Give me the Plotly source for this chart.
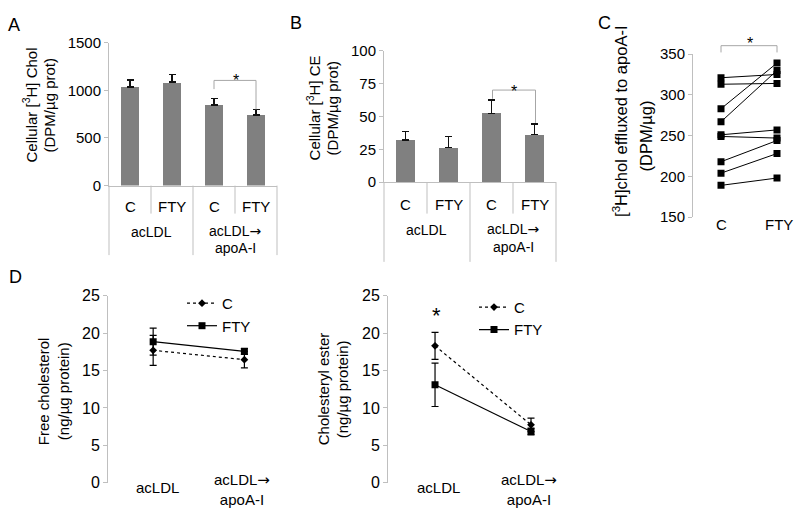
import plotly.graph_objects as go

W, H = 800, 516
FONT = "Liberation Sans, Arial, sans-serif"
BAR_GREY = "#808080"
AXIS_GREY = "#bfbfbf"
ARROW = '<span style="font-family:DejaVu Sans">→</span>'

# ---- data ----
bar_cats = ["C", "FTY", "C", "FTY"]
bar_groups = ["acLDL", "acLDL" + ARROW, "apoA-I"]

chol_vals = [1037, 1085, 848, 740]
chol_err = [75, 80, 68, 60]

ce_vals = [32.1, 26.3, 52.4, 36.2]
ce_err = [6.6, 8.6, 10.4, 7.9]

pair_cats = ["C", "FTY"]
efflux_c = [321, 313, 283, 267, 251, 249, 218, 204, 189]
efflux_fty = [325, 314, 339, 330, 257, 247, 244, 228, 198]

d_cats = ["acLDL", "acLDL" + ARROW + "<br>apoA-I"]
fc_c = [17.7, 16.45]
fc_c_err = [2.0, 1.1]
fc_fty = [18.85, 17.55]
fc_fty_err = [1.8, 0.4]
ce2_c = [18.3, 7.75]
ce2_c_err = [1.8, 0.9]
ce2_fty = [13.1, 6.85]
ce2_fty_err = [2.9, 0.45]


def px(x):
    return x / W


def py(y):
    return 1 - y / H


# axis boxes in pixels: (x0, x1, ytop, ybottom)
BOX_A = (109, 277, 35, 183)
BOX_B = (384, 556, 43.5, 179.3)
BOX_C = (693, 800, 46.7, 215.7)
BOX_D1 = (108, 290, 297, 491)
BOX_D2 = (388, 579, 297, 491)

fig = go.Figure()

# A & B bars
for vals, errs, ax in [(chol_vals, chol_err, ""), (ce_vals, ce_err, "2")]:
    fig.add_trace(go.Bar(
        x=list(range(len(vals))), y=vals, width=0.43,
        marker=dict(color=BAR_GREY, line=dict(width=0)),
        error_y=dict(type="data", array=errs, arrayminus=[0] * len(errs),
                     symmetric=False, color="#111", thickness=1.6, width=3.5),
        xaxis="x" + ax, yaxis="y" + ax, showlegend=False,
    ))

# C paired lines
lx, ly = [], []
for a, b in zip(efflux_c, efflux_fty):
    lx += [0, 1, None]
    ly += [a, b, None]
fig.add_trace(go.Scatter(
    x=lx, y=ly, mode="lines+markers",
    line=dict(color="black", width=1),
    marker=dict(symbol="square", size=7, color="black"),
    xaxis="x3", yaxis="y3", showlegend=False,
))

# D panels
for (cv, cerr, fv, ferr, ax, lg) in [(fc_c, fc_c_err, fc_fty, fc_fty_err, "4", "legend"),
                                     (ce2_c, ce2_c_err, ce2_fty, ce2_fty_err, "5", "legend2")]:
    fig.add_trace(go.Scatter(
        x=[0, 1], y=cv, name="C", mode="lines+markers",
        line=dict(color="black", width=1.2, dash="dot"),
        marker=dict(symbol="diamond", size=6, color="black"),
        error_y=dict(type="data", array=cerr, color="black", thickness=1.2, width=3.5),
        xaxis="x" + ax, yaxis="y" + ax, legend=lg,
    ))
    fig.add_trace(go.Scatter(
        x=[0, 1], y=fv, name="FTY", mode="lines+markers",
        line=dict(color="black", width=1.2),
        marker=dict(symbol="square", size=7, color="black"),
        error_y=dict(type="data", array=ferr, color="black", thickness=1.2, width=3.5),
        xaxis="x" + ax, yaxis="y" + ax, legend=lg,
    ))


def yax(box, rng, dtick, anchor, size=15):
    return dict(domain=[py(box[3]), py(box[2])], range=rng, dtick=dtick, anchor=anchor,
                showline=True, linecolor=AXIS_GREY, linewidth=1,
                ticks="outside", ticklen=4, tickcolor=AXIS_GREY,
                showgrid=False, zeroline=False,
                tickfont=dict(size=size, color="black"))


def xax(box, rng, anchor, line=False):
    return dict(domain=[px(box[0]), min(px(box[1]), 1)], range=rng, anchor=anchor,
                showline=line, linecolor=AXIS_GREY, linewidth=1,
                ticks="", showticklabels=False, showgrid=False, zeroline=False)


# C panel: x=0 at 721px, x=1 at 777px
c_scale = 56.0
c_range = [-0.5, -0.5 + (800 - 693) / c_scale]

fig.update_layout(
    width=W, height=H, margin=dict(l=0, r=0, t=0, b=0),
    paper_bgcolor="white", plot_bgcolor="white",
    font=dict(family=FONT, color="black"),
    bargap=0, hovermode=False,
    xaxis=xax(BOX_A, [-0.5, 3.5], "y", True),
    yaxis=yax(BOX_A, [0, 1500], 500, "x"),
    xaxis2=xax(BOX_B, [-0.5, 3.5], "y2", True),
    yaxis2=yax(BOX_B, [0, 100], 25, "x2"),
    xaxis3=xax(BOX_C, c_range, "y3"),
    yaxis3=yax(BOX_C, [150, 350], 50, "x3"),
    xaxis4=xax(BOX_D1, [-0.495, 1.5], "y4"),
    yaxis4=yax(BOX_D1, [0, 25], 5, "x4", 16),
    xaxis5=xax(BOX_D2, [-0.49, 1.5], "y5"),
    yaxis5=yax(BOX_D2, [0, 25], 5, "x5", 16),
    legend=dict(x=px(182), y=py(288), xanchor="left", yanchor="top",
                bgcolor="rgba(0,0,0,0)", font=dict(size=15), itemwidth=30,
                tracegroupgap=0),
    legend2=dict(x=px(474), y=py(292), xanchor="left", yanchor="top",
                 bgcolor="rgba(0,0,0,0)", font=dict(size=15), itemwidth=30,
                 tracegroupgap=0),
)

shapes = []
ann = []


def line(x0, y0, x1, y1, color=AXIS_GREY, w=1):
    shapes.append(dict(type="line", xref="paper", yref="paper",
                       x0=px(x0), y0=py(y0), x1=px(x1), y1=py(y1),
                       line=dict(color=color, width=w)))


def text(x, y, s, size=15, angle=0):
    ann.append(dict(xref="paper", yref="paper", x=px(x), y=py(y), text=s,
                    showarrow=False, xanchor="center", yanchor="middle",
                    textangle=angle, font=dict(size=size, color="black")))


# multi-level category axes for A and B
for box, inner_end, group_end, cat_y, grp_y in [
        (BOX_A, 212, 255, 205, (230, 248)),
        (BOX_B, 212, 262, 202.5, (228, 247))]:
    x0, x1, _, yb = box
    step = (x1 - x0) / 4
    for i in range(5):
        xx = x0 + i * step
        line(xx, yb, xx, group_end if i % 2 == 0 else inner_end)
    for i, c in enumerate(bar_cats):
        text(x0 + (i + 0.5) * step, cat_y, c, 15)
    text(x0 + step, grp_y[0] + 1, bar_groups[0], 14)
    text(x0 + 3 * step, grp_y[0], bar_groups[1], 14)
    text(x0 + 3 * step, grp_y[1], bar_groups[2], 14)

# C panel category labels
for i, c in enumerate(pair_cats):
    text(693 + (i - c_range[0]) * c_scale + 2 * i, 223, c, 15)

# significance brackets
BR = "#a6a6a6"
for (xl, xr, ytop, yl, yr, sx, sy) in [(214, 256, 74, 83, 104, 236, 74),
                                        (492.5, 535.5, 84, 93, 118, 514, 85),
                                        (721, 777, 38, 45, 45, 750, 36)]:
    line(xl, yl, xl, ytop, BR)
    line(xl, ytop, xr, ytop, BR)
    line(xr, ytop, xr, yr, BR)
    text(sx, sy, "*", 16)
text(436, 318, "*", 22)

# D category labels
for x_a, x_b in [(153, 244), (435, 531)]:
    text(x_a + 4, 496, d_cats[0], 15)
    text(x_b - 2, 498, d_cats[1], 15)

# axis titles
text(30, 100, "Cellular [<sup>3</sup>H] Chol", 15, -90)
text(50, 100, "(DPM/µg prot)", 15, -90)
text(313, 103, "Cellular [<sup>3</sup>H] CE", 15, -90)
text(332, 103, "(DPM/µg prot)", 15, -90)
text(620, 117, "[<sup>3</sup>H]chol effluxed to apoA-I", 16.5, -90)
text(646, 132, "(DPM/µg)", 16.5, -90)
text(43, 396, "Free cholesterol", 15, -90)
text(63, 396, "(ng/µg protein)", 15, -90)
text(323, 394, "Cholesteryl ester", 15, -90)
text(342, 394, "(ng/µg protein)", 15, -90)

# panel letters
text(14, 17, "A", 18)
text(296, 14, "B", 18)
text(604, 14, "C", 18)
text(15, 278, "D", 18)

fig.update_layout(shapes=shapes, annotations=ann)
# drop the default 8px page margin so the figure sits at the window origin
fig.write_html("out.html", config={"displayModeBar": False},
               post_script="document.body.style.margin='0';"
                           "document.documentElement.style.overflow='hidden';")
